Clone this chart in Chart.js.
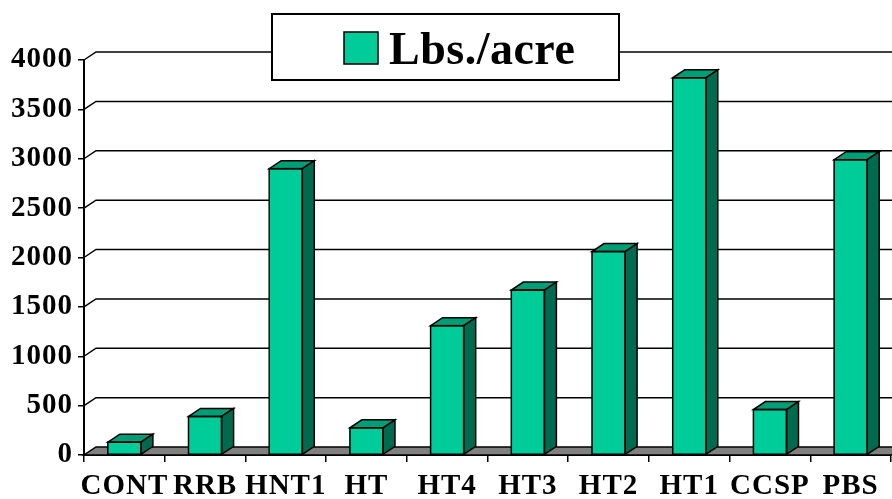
<!DOCTYPE html>
<html>
<head>
<meta charset="utf-8">
<script src="https://cdn.jsdelivr.net/npm/chart.js@4.4.1/dist/chart.umd.min.js"></script>
<style>
  html, body { margin: 0; padding: 0; background: #fff; }
  canvas { display: block; }
</style>
</head>
<body>
<canvas id="lbsChart" width="892" height="499"></canvas>
<script>
// Données
const categories = ['CONT', 'RRB', 'HNT1', 'HT', 'HT4', 'HT3', 'HT2', 'HT1', 'CCSP', 'PBS'];
const lbsPerAcre = [130, 390, 2900, 275, 1310, 1670, 2060, 3820, 460, 2990];
const seriesLabel = 'Lbs./acre';
const yTicks = [0, 500, 1000, 1500, 2000, 2500, 3000, 3500, 4000];

// Couleurs des faces
const frontColor = '#00CC99';
const topColor = '#009E76';
const sideColor = '#006A4E';
const floorColor = '#808080';

// Décalage de profondeur (effet 3D)
const DX = 12;
const DY = -8;

const tickFont = { family: 'Liberation Serif', size: 29, weight: 'bold' };

// Fond, sol et lignes de grille sur le mur arrière
const backWall = {
    id: 'backWall',
    beforeDraw(chart) {
        chart.ctx.letterSpacing = '1px';
    },
    beforeDatasetsDraw(chart) {
        const ctx = chart.ctx;
        const { left, right, bottom } = chart.chartArea;
        const y = chart.scales.y;
        ctx.save();
        ctx.strokeStyle = '#000';
        ctx.lineWidth = 1.5;

        // lignes de grille
        yTicks.forEach(v => {
            if (v === 0) return;
            const py = y.getPixelForValue(v);
            ctx.beginPath();
            ctx.moveTo(left, py);
            ctx.lineTo(left + DX, py + DY);
            ctx.lineTo(right + DX, py + DY);
            ctx.stroke();
        });

        // sol gris
        ctx.beginPath();
        ctx.moveTo(left, bottom);
        ctx.lineTo(right, bottom);
        ctx.lineTo(right + DX, bottom + DY);
        ctx.lineTo(left + DX, bottom + DY);
        ctx.closePath();
        ctx.fillStyle = floorColor;
        ctx.fill();
        ctx.stroke();
        ctx.restore();
    },
    afterDatasetsDraw(chart) {
        const ctx = chart.ctx;
        const meta = chart.getDatasetMeta(0);
        ctx.save();
        ctx.strokeStyle = '#000';
        ctx.lineWidth = 1.5;
        meta.data.forEach(bar => {
            const p = bar.getProps(['x', 'y', 'base', 'width'], true);
            const l = p.x - p.width / 2;
            const r = p.x + p.width / 2;
            const t = p.y;
            // face du dessus
            ctx.beginPath();
            ctx.moveTo(l, t);
            ctx.lineTo(r, t);
            ctx.lineTo(r + DX, t + DY);
            ctx.lineTo(l + DX, t + DY);
            ctx.closePath();
            ctx.fillStyle = topColor;
            ctx.fill();
            ctx.stroke();
            // face latérale
            ctx.beginPath();
            ctx.moveTo(r, t);
            ctx.lineTo(r + DX, t + DY);
            ctx.lineTo(r + DX, p.base + DY);
            ctx.lineTo(r, p.base);
            ctx.closePath();
            ctx.fillStyle = sideColor;
            ctx.fill();
            ctx.stroke();
            // contour avant
            ctx.strokeRect(l, t, p.width, p.base - t);
        });
        ctx.restore();
    },
    afterDraw(chart) {
        // légende encadrée
        const ctx = chart.ctx;
        ctx.save();
        ctx.fillStyle = '#fff';
        ctx.fillRect(272, 14, 347, 66);
        ctx.strokeStyle = '#000';
        ctx.lineWidth = 2;
        ctx.strokeRect(272, 14, 347, 66);
        ctx.fillStyle = frontColor;
        ctx.fillRect(344, 32, 34, 32);
        ctx.lineWidth = 1.5;
        ctx.strokeRect(344, 32, 34, 32);
        ctx.fillStyle = '#000';
        ctx.font = 'bold 46px "Liberation Serif"';
        ctx.letterSpacing = '0.5px';
        ctx.textBaseline = 'alphabetic';
        ctx.fillText(chart.data.datasets[0].label, 389, 64);
        ctx.restore();
        ctx.letterSpacing = '0px';
    }
};

new Chart(document.getElementById('lbsChart').getContext('2d'), {
    type: 'bar',
    data: {
        labels: categories,
        datasets: [{
            label: seriesLabel,
            data: lbsPerAcre,
            backgroundColor: frontColor,
            borderWidth: 0,
            barPercentage: 0.82,
            categoryPercentage: 0.5
        }]
    },
    options: {
        responsive: false,
        animation: false,
        layout: { padding: { top: 60, right: 1, left: 0, bottom: 0 } },
        plugins: {
            legend: { display: false },
            tooltip: { enabled: false }
        },
        scales: {
            y: {
                min: 0,
                max: 4000,
                afterFit(scale) { scale.width = 84; },
                afterBuildTicks(scale) { scale.ticks = yTicks.map(v => ({ value: v })); },
                ticks: { font: tickFont, color: '#000', padding: 5, callback: v => String(v) },
                grid: { drawOnChartArea: false, tickLength: 6, color: '#000', lineWidth: 1.5 },
                border: { color: '#000', width: 2 }
            },
            x: {
                afterFit(scale) { scale.height = 44; },
                ticks: { font: tickFont, color: '#000', padding: 7, maxRotation: 0, autoSkip: false },
                grid: { drawOnChartArea: false, tickLength: 7, color: '#000', lineWidth: 1.5, offset: true },
                border: { color: '#000', width: 2 }
            }
        }
    },
    plugins: [backWall]
});
</script>
</body>
</html>
